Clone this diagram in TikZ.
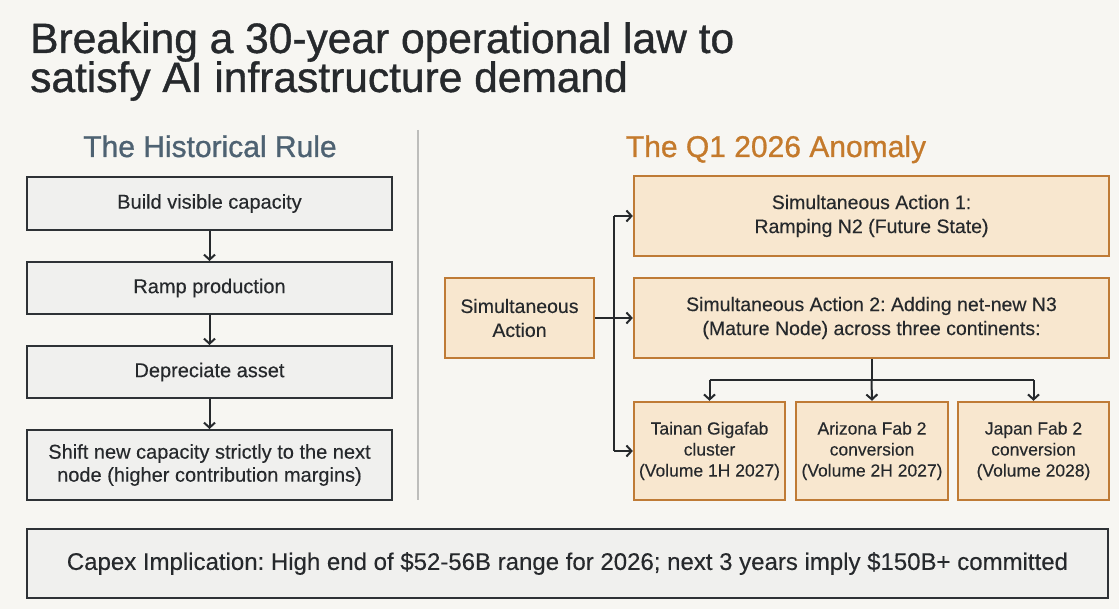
\documentclass[tikz,border=0pt]{standalone}
\usepackage{fontspec}
\setmainfont{Liberation Sans}[FakeBold=0.25]
\newfontfamily\medfont{Liberation Sans}[FakeBold=0.9]
\usetikzlibrary{arrows.meta}
\frenchspacing
\definecolor{bg}{HTML}{F7F6F2}
\definecolor{ink}{HTML}{26292C}
\definecolor{slate}{HTML}{4E6272}
\definecolor{ochre}{HTML}{C47A2C}
\definecolor{obord}{HTML}{BF7B36}
\definecolor{ofill}{HTML}{F8E7CF}
\definecolor{gfill}{HTML}{F0F0EE}
\definecolor{gbord}{HTML}{2E3236}
\definecolor{divider}{HTML}{BDBDBB}
\tikzset{
  x=1pt, y=-1pt,
  greybox/.style={draw=gbord, line width=2pt, fill=gfill, inner sep=0pt, text=ink, align=center,
    font=\fontsize{20}{23}\selectfont},
  orangebox/.style={draw=obord, line width=2.4pt, fill=ofill, inner sep=0pt, text=ink, align=center,
    font=\fontsize{19.5}{24}\selectfont},
  fabbox/.style={orangebox, font=\fontsize{17.5}{21}\selectfont},
  conn/.style={draw=ink, line width=2pt, -{Straight Barb[length=5pt,width=11pt,line width=2pt]}},
  plain/.style={draw=ink, line width=2pt},
}
\newcommand{\boxat}[6]{\node[#1, minimum width={(#4)-(#2)}, minimum height={(#5)-(#3)}] (#6) at ({((#2)+(#4))/2},{((#3)+(#5))/2})}
\begin{document}
\begin{tikzpicture}
\fill[bg] (0,0) rectangle (1119,609);
\useasboundingbox (0,0) rectangle (1119,609);

% title
\node[anchor=base west, inner sep=0pt, text=ink, font=\medfont\fontsize{42.5}{48}\selectfont] (t1) at (30,53) {Breaking a 30-year operational law to};
\node[anchor=base west, inner sep=0pt, text=ink, font=\medfont\fontsize{42.5}{48}\selectfont] (t2) at (30,92) {satisfy AI infrastructure demand};

% divider
\draw[divider, line width=1.6pt] (418,130) -- (418,500);

% headings
\node[anchor=base, inner sep=0pt, text=slate, font=\medfont\fontsize{30}{34}\selectfont] (h1) at (210,157) {The Historical Rule};
\node[anchor=base, inner sep=0pt, text=ochre, font=\medfont\fontsize{30}{34}\selectfont] (h2) at (776,157) {The Q1 2026 Anomaly};

% left column
\boxat{greybox}{27}{177}{392}{230}{l1} {Build visible capacity};
\boxat{greybox}{27}{262}{392}{314}{l2} {Ramp production};
\boxat{greybox}{27}{346}{392}{398}{l3} {Depreciate asset};
\boxat{greybox}{27}{430}{392}{500}{l4} {Shift new capacity strictly to the next\\node (higher contribution margins)};
\draw[conn] (l1.south) -- (l2.north);
\draw[conn] (l2.south) -- (l3.north);
\draw[conn] (l3.south) -- (l4.north);

% right column
\boxat{orangebox}{445}{278}{594}{358}{sa} {Simultaneous\\Action};
\boxat{orangebox}{634}{176}{1109}{256}{a1} {Simultaneous Action 1:\\Ramping N2 (Future State)};
\boxat{orangebox}{634}{278}{1109}{358}{a2} {Simultaneous Action 2: Adding net-new N3\\(Mature Node) across three continents:};
\boxat{fabbox}{634}{402}{785}{500}{f1} {Tainan Gigafab\\cluster\\(Volume 1H 2027)};
\boxat{fabbox}{796}{402}{948}{500}{f2} {Arizona Fab 2\\conversion\\(Volume 2H 2027)};
\boxat{fabbox}{958}{402}{1109}{500}{f3} {Japan Fab 2\\conversion\\(Volume 2028)};

\coordinate (jtop) at (614,216);
\coordinate (jbot) at (614,451);
\draw[conn] (sa.east) -- (a2.west);
\draw[plain] (jtop) -- (jbot);
\draw[conn] (jtop) -- (a1.west |- jtop);
\draw[conn] (jbot) -- (f1.west |- jbot);

\coordinate (hb) at (871.5,380);
\draw[plain] (a2.south) -- (hb);
\draw[plain] (f1.north |- hb) -- (f3.north |- hb);
\draw[conn] (f1.north |- hb) -- (f1.north);
\draw[conn] (hb) -- (f2.north);
\draw[conn] (f3.north |- hb) -- (f3.north);

% bottom
\boxat{greybox}{27}{529}{1108}{598}{cap} {\fontsize{24}{28}\selectfont Capex Implication: High end of \$52-56B range for 2026; next 3 years imply \$150B+ committed};
\end{tikzpicture}
\end{document}
